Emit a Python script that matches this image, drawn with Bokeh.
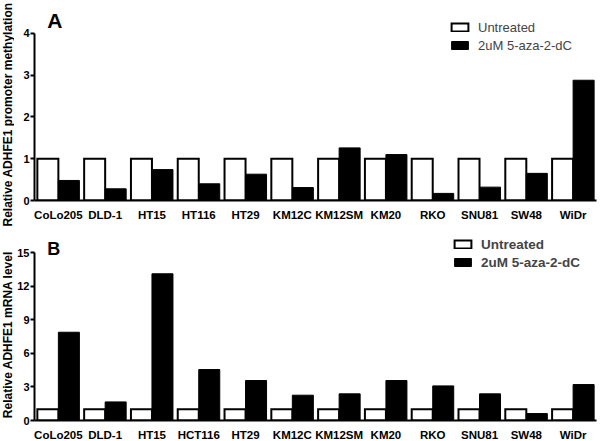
import math
from bokeh.plotting import figure
from bokeh.layouts import column, row
from bokeh.models import (ColumnDataSource, Range1d, FixedTicker, Legend, LegendItem, Label)
from bokeh.transform import dodge
from bokeh.embed import file_html
from bokeh.resources import INLINE

# ---- data ----
cells_A = ["CoLo205", "DLD-1", "HT15", "HT116", "HT29", "KM12C", "KM12SM", "KM20", "RKO", "SNU81", "SW48", "WiDr"]
untreated_A = [1.0, 1.0, 1.0, 1.0, 1.0, 1.0, 1.0, 1.0, 1.0, 1.0, 1.0, 1.0]
aza_A = [0.48, 0.28, 0.74, 0.40, 0.63, 0.31, 1.26, 1.10, 0.17, 0.32, 0.65, 2.88]

cells_B = ["CoLo205", "DLD-1", "HT15", "HCT116", "HT29", "KM12C", "KM12SM", "KM20", "RKO", "SNU81", "SW48", "WiDr"]
untreated_B = [1.0, 1.0, 1.0, 1.0, 1.0, 1.0, 1.0, 1.0, 1.0, 1.0, 1.0, 1.0]
aza_B = [7.88, 1.66, 13.1, 4.55, 3.57, 2.26, 2.38, 3.57, 3.09, 2.38, 0.62, 3.21]

ticks_A = [0, 1, 2, 3, 4]
ticks_B = [0, 3, 6, 9, 12, 15]

legend_labels = ["Untreated", "2uM 5-aza-2-dC"]
title_A = "Relative ADHFE1 promoter methylation"
title_B = "Relative ADHFE1 mRNA level"
FONT = "Liberation Sans"
BW = 0.449


def make_panel(cells, untreated, aza, yticks, yend, letter, letter_size, letter_y, frame_h,
               legend_loc, legend_font_style, legend_font_size, legend_spacing):
    src = ColumnDataSource(dict(idx=list(range(len(cells))), u=untreated, a=aza))
    p = figure(frame_width=562, frame_height=frame_h, output_backend="svg", toolbar_location=None,
               x_range=Range1d(-0.51, 11.5), y_range=Range1d(yticks[0], yend),
               min_border_left=18, min_border_right=6, min_border_top=0, min_border_bottom=22)
    p.outline_line_color = None
    p.xgrid.grid_line_color = None
    p.ygrid.grid_line_color = None
    p.background_fill_color = "white"

    r1 = p.vbar(x=dodge("idx", -BW / 2), top="u", bottom=0, width=BW, source=src,
                fill_color="white", line_color="black", line_width=2, line_join="miter")
    r2 = p.vbar(x=dodge("idx", BW / 2), top="a", bottom=0, width=BW, source=src,
                fill_color="black", line_color="black", line_width=1, line_join="miter")

    # x axis
    p.xaxis.ticker = FixedTicker(ticks=list(range(len(cells))))
    p.xaxis.major_label_overrides = {i: c for i, c in enumerate(cells)}
    p.xaxis.major_tick_line_color = None
    p.xaxis.major_tick_out = 0
    p.xaxis.major_tick_in = 0
    p.xaxis.minor_tick_line_color = None
    p.xaxis.major_label_standoff = 8
    p.xaxis.major_label_text_font = FONT
    p.xaxis.major_label_text_font_style = "bold"
    p.xaxis.major_label_text_font_size = "11.5px"
    p.xaxis.major_label_text_color = "black"
    p.xaxis.axis_line_width = 2
    p.xaxis.axis_line_color = "black"

    # y axis
    p.yaxis.ticker = FixedTicker(ticks=yticks)
    p.yaxis.bounds = (yticks[0], yticks[-1])
    p.yaxis.minor_tick_line_color = None
    p.yaxis.major_tick_in = 0
    p.yaxis.major_tick_out = 4
    p.yaxis.major_tick_line_width = 2
    p.yaxis.major_tick_line_color = "black"
    p.yaxis.axis_line_width = 2
    p.yaxis.axis_line_color = "black"
    p.yaxis.major_label_standoff = 1
    p.yaxis.major_label_text_font = FONT
    p.yaxis.major_label_text_font_style = "bold"
    p.yaxis.major_label_text_font_size = "11px"
    p.yaxis.major_label_text_color = "black"

    legend = Legend(items=[LegendItem(label=legend_labels[0], renderers=[r1]),
                           LegendItem(label=legend_labels[1], renderers=[r2])],
                    location=legend_loc, padding=0, margin=0, spacing=0,
                    border_line_color=None, background_fill_alpha=0,
                    glyph_width=21, glyph_height=10, label_height=legend_spacing,
                    label_standoff=8, label_text_font=FONT,
                    label_text_font_style=legend_font_style,
                    label_text_font_size=legend_font_size)
    p.add_layout(legend, "center")

    p.add_layout(Label(x=-0.235, y=letter_y, text=letter, text_font=FONT,
                       text_font_style="bold", text_font_size=letter_size,
                       text_baseline="alphabetic", text_color="black"))
    return p


# panel A: frame y 0..200 px, 4 units -> 167 px
pA = make_panel(cells_A, untreated_A, aza_A, ticks_A, 4.79,
                "A", "21px", 4.30, 200, (415, 146), "normal", "13px", 18)
# panel B: frame 197 px, 15 units -> 168 px
pB = make_panel(cells_B, untreated_B, aza_B, ticks_B, 17.59,
                "B", "18px", 15.33, 197, (418, 149), "bold", "13.5px", 18)

# narrow strip carrying the two rotated y-axis titles (page pixels as its data space)
strip = figure(frame_width=14, frame_height=441, output_backend="svg", toolbar_location=None,
               x_range=Range1d(0, 14), y_range=Range1d(0, 441),
               x_axis_location=None, y_axis_location=None, min_border=0)
strip.outline_line_color = None
strip.xgrid.grid_line_color = None
strip.ygrid.grid_line_color = None
strip.add_layout(Label(x=7, y=441 - 114, text=title_A, angle=math.pi / 2,
                       text_align="center", text_baseline="middle", text_font=FONT,
                       text_font_style="bold", text_font_size="12px", text_color="black"))
strip.add_layout(Label(x=7, y=441 - 334, text=title_B, angle=math.pi / 2,
                       text_align="center", text_baseline="middle", text_font=FONT,
                       text_font_style="bold", text_font_size="12px", text_color="black"))

layout = row(strip, column(pA, pB, spacing=0), spacing=0)
open("out.html", "w").write(file_html(layout, INLINE))
